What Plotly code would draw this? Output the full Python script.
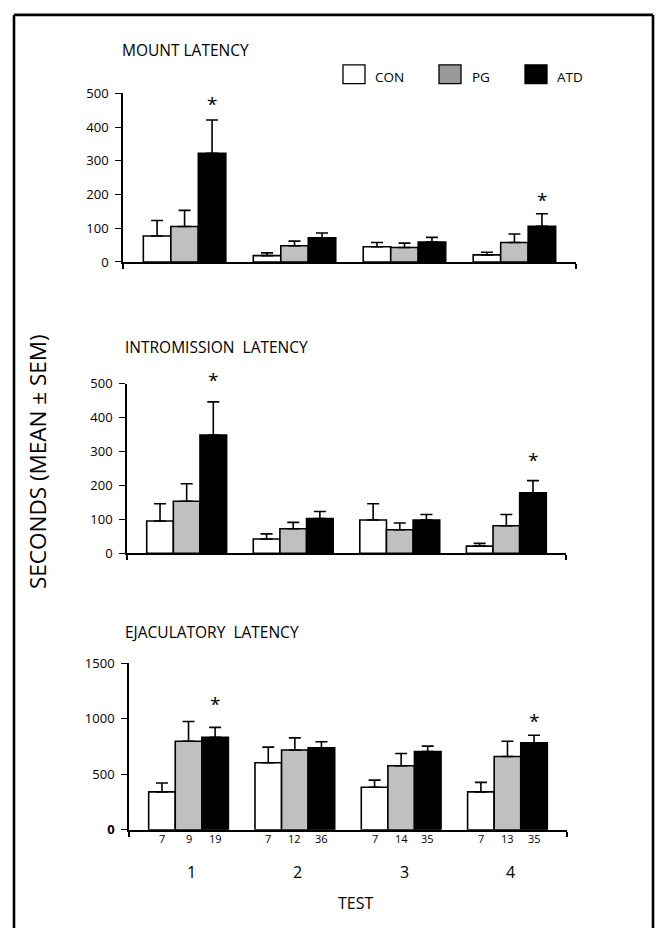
import plotly.graph_objects as go

W, H = 657, 928
FONT = "Open Sans"

tests = [1, 2, 3, 4]
group_labels = ["1", "2", "3", "4"]
groups = ["CON", "PG", "ATD"]

mount_con = [77, 19, 45, 21]
mount_con_err = [46, 8, 13, 8]
mount_pg = [105, 48, 43, 58]
mount_pg_err = [48, 14, 13, 25]
mount_atd = [322, 72, 59, 106]
mount_atd_err = [99, 14, 14, 37]

intro_con = [95, 42, 98, 21]
intro_con_err = [51, 15, 48, 8]
intro_pg = [153, 72, 69, 81]
intro_pg_err = [52, 19, 20, 33]
intro_atd = [348, 102, 98, 178]
intro_atd_err = [98, 21, 16, 36]

ejac_con = [341, 603, 382, 341]
ejac_con_err = [80, 141, 65, 85]
ejac_pg = [797, 718, 576, 659]
ejac_pg_err = [177, 109, 110, 138]
ejac_atd = [832, 738, 703, 783]
ejac_atd_err = [89, 54, 50, 67]

n_con = [7, 7, 7, 7]
n_pg = [9, 12, 14, 13]
n_atd = [19, 36, 35, 35]

# tests with a significant ATD effect (star above the ATD error bar)
sig_tests = [1, 4]

panel_titles = ["MOUNT LATENCY", "INTROMISSION\u00a0 LATENCY", "EJACULATORY\u00a0 LATENCY"]

fill = {"CON": "#ffffff", "PG": "#c0c0c0", "ATD": "#000000"}
legend_fill = {"CON": "#ffffff", "PG": "#999999", "ATD": "#000000"}

panels = [
    dict(CON=(mount_con, mount_con_err), PG=(mount_pg, mount_pg_err), ATD=(mount_atd, mount_atd_err)),
    dict(CON=(intro_con, intro_con_err), PG=(intro_pg, intro_pg_err), ATD=(intro_atd, intro_atd_err)),
    dict(CON=(ejac_con, ejac_con_err), PG=(ejac_pg, ejac_pg_err), ATD=(ejac_atd, ejac_atd_err)),
]
# gap in px between the error-bar top and the star (style)
star_gap = [[13, 11], [19, 18], [20, 11]]

def px_x(p):
    return p / W

def px_y(p):
    return 1 - p / H

x_domains = [(123, 576), (127, 566), (129, 567)]
y_domains = [(258, 86), (555, 382), (837, 667)]
y_ranges = [[0, 500], [0, 500], [0, 1500]]
y_dticks = [100, 100, 500]
x_range = [0.44, 4.56]

fig = go.Figure()
annotations = []
shapes = []

for i, data in enumerate(panels):
    sfx = "" if i == 0 else str(i + 1)
    for g in groups:
        vals, errs = data[g]
        fig.add_trace(go.Bar(
            x=tests, y=vals, name=g, showlegend=False,
            xaxis="x" + sfx, yaxis="y" + sfx,
            offsetgroup=g,
            marker=dict(color=fill[g], line=dict(color="black", width=1.6)),
            error_y=dict(type="data", array=errs, arrayminus=[0] * len(errs),
                         symmetric=False, color="black", thickness=1.6, width=6),
        ))
    atd_vals, atd_errs = data["ATD"]
    for t, gap in zip(sig_tests, star_gap[i]):
        k = tests.index(t)
        annotations.append(dict(
            x=t + 0.25, y=atd_vals[k] + atd_errs[k], xref="x" + sfx, yref="y" + sfx,
            text="*", showarrow=False, yanchor="middle", yshift=gap + 3,
            font=dict(family=FONT, size=19, color="black"),
        ))
    xl = "xaxis" + sfx
    yl = "yaxis" + sfx
    fig.update_layout(**{
        xl: dict(domain=[px_x(x_domains[i][0]), px_x(x_domains[i][1])], range=x_range,
                 anchor="y" + sfx, showline=True, linecolor="black", linewidth=1.6,
                 tickvals=x_range, ticktext=["", ""], ticks="outside", ticklen=5,
                 tickwidth=1.6, tickcolor="black", showgrid=False, zeroline=False,
                 fixedrange=True),
        yl: dict(domain=[px_y(y_domains[i][0]), px_y(y_domains[i][1])], range=y_ranges[i],
                 anchor="x" + sfx, showline=True, linecolor="black", linewidth=1.6,
                 tick0=0, dtick=y_dticks[i], ticks="outside", ticklen=6, tickwidth=1.4,
                 tickcolor="black", showgrid=False, zeroline=False,
                 tickfont=dict(family=FONT, size=13, color="black"),
                 ticklabelstandoff=4, fixedrange=True),
    })

fig.update_layout(yaxis3=dict(tickvals=[0, 500, 1000, 1500],
                              ticktext=["<b>0</b>", "500", "1000", "1500"]))

title_pos = [(120, 42), (123, 345), (123, 635)]
for t, (tx, ty) in zip(panel_titles, title_pos):
    annotations.append(dict(x=px_x(tx), y=px_y(ty), xref="paper", yref="paper", text=t,
                            showarrow=False, xanchor="left", yanchor="middle",
                            font=dict(family=FONT, size=15.5, color="black")))

offsets = {"CON": -0.25, "PG": 0.0, "ATD": 0.25}
nvals = {"CON": n_con, "PG": n_pg, "ATD": n_atd}
for g in groups:
    for t, n in zip(tests, nvals[g]):
        annotations.append(dict(x=t + offsets[g], y=px_y(846), xref="x3", yref="paper",
                                text=str(n), showarrow=False, yanchor="middle",
                                font=dict(family=FONT, size=11, color="black")))

for t, lab in zip(tests, group_labels):
    annotations.append(dict(x=t, y=px_y(880), xref="x3", yref="paper", text=lab,
                            showarrow=False, yanchor="middle", xshift=3,
                            font=dict(family=FONT, size=16, color="black")))

annotations.append(dict(x=px_x(355), y=px_y(912), xref="paper", yref="paper", text="TEST",
                        showarrow=False, yanchor="middle",
                        font=dict(family=FONT, size=16, color="black")))

annotations.append(dict(x=px_x(37), y=px_y(462), xref="paper", yref="paper",
                        text="SECONDS (MEAN \u00b1 SEM)", textangle=-90, showarrow=False,
                        xanchor="center", yanchor="middle",
                        font=dict(family=FONT, size=22.5, color="black")))

leg = [("CON", 343, 373), ("PG", 439, 470), ("ATD", 525, 555)]
for g, bx, tx in leg:
    shapes.append(dict(type="rect", xref="paper", yref="paper",
                       x0=px_x(bx), x1=px_x(bx + 22), y0=px_y(76), y1=px_y(57),
                       fillcolor=legend_fill[g], line=dict(color="black", width=1.3)))
    annotations.append(dict(x=px_x(tx), y=px_y(69), xref="paper", yref="paper", text=g,
                            showarrow=False, xanchor="left", yanchor="middle",
                            font=dict(family=FONT, size=13.5, color="black")))

frame = dict(color="black", width=2.6)
shapes.append(dict(type="line", xref="paper", yref="paper",
                   x0=px_x(14), x1=px_x(14), y0=-0.05, y1=px_y(6), line=frame))
shapes.append(dict(type="line", xref="paper", yref="paper",
                   x0=px_x(14), x1=px_x(653), y0=px_y(6), y1=px_y(6), line=frame))
shapes.append(dict(type="line", xref="paper", yref="paper",
                   x0=px_x(653), x1=px_x(653), y0=-0.05, y1=px_y(6), line=frame))

fig.update_layout(
    width=W, height=H, autosize=False,
    margin=dict(l=0, r=0, t=0, b=0),
    paper_bgcolor="white", plot_bgcolor="white",
    barmode="group", bargap=0.25, bargroupgap=0,
    showlegend=False,
    annotations=annotations, shapes=shapes,
    font=dict(family=FONT, color="black"),
)

fig.write_html("out.html")
